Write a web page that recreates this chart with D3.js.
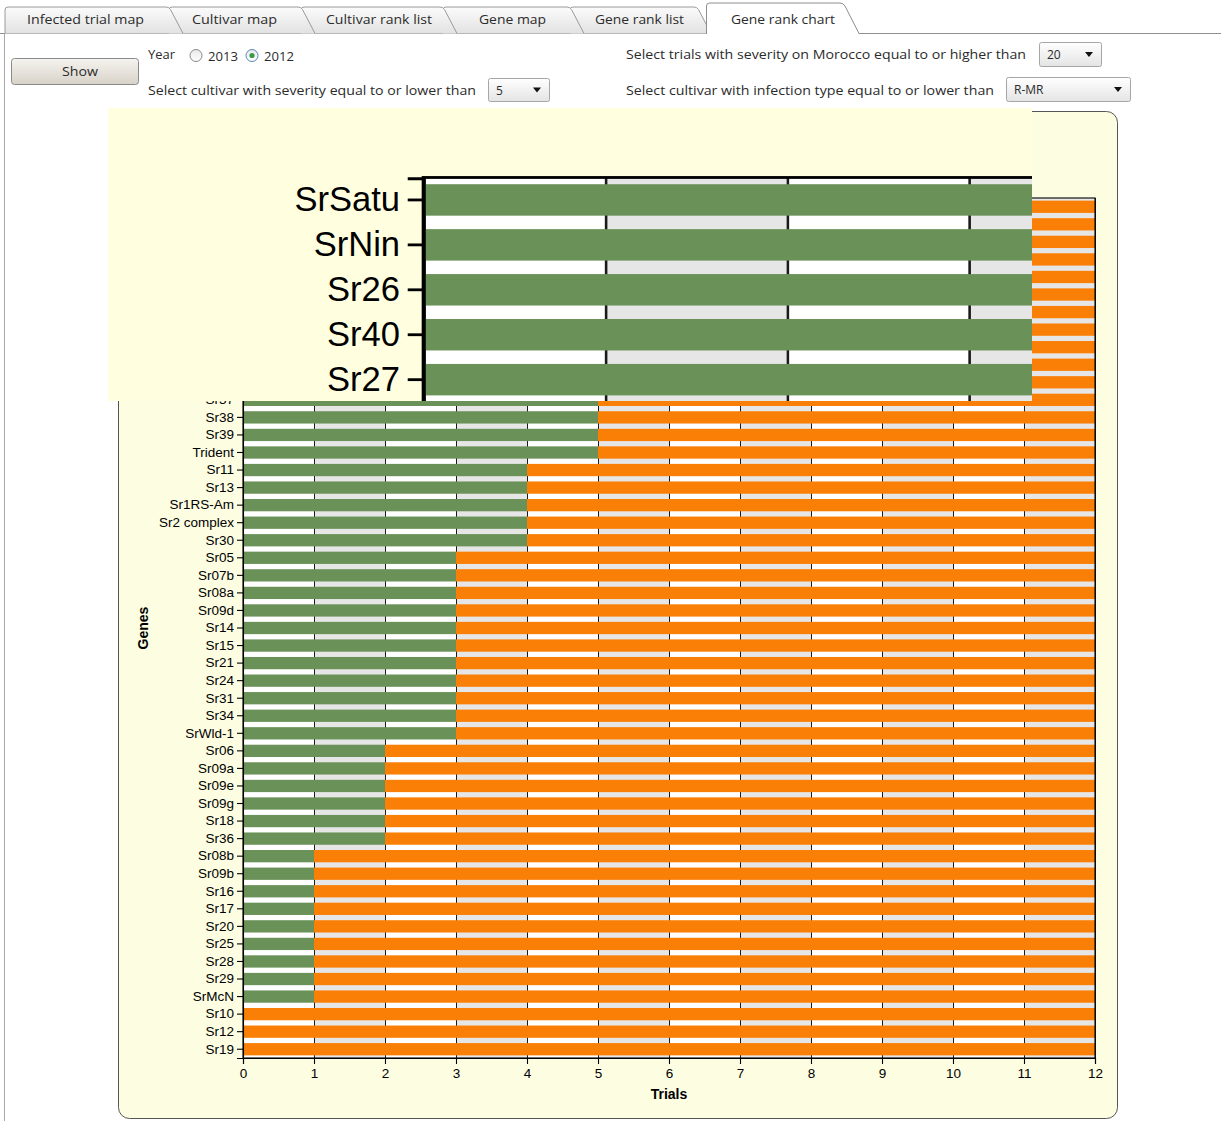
<!DOCTYPE html>
<html>
<head>
<meta charset="utf-8">
<script src="https://cdnjs.cloudflare.com/ajax/libs/d3/7.8.5/d3.min.js"></script>
<style>
  body { margin: 0; background: #fff; }
  svg { display: block; }
  .ui { font-family: "Open Sans", "Noto Sans", sans-serif; font-size: 12px; fill: #2b2b2b; }
  .chart text { font-family: "Liberation Sans", Arial, sans-serif; fill: #000; }
</style>
</head>
<body>
<svg id="page" width="1221" height="1121"></svg>
<script>
// genes ordered as in the chart (top to bottom), trials where the gene held (green) / failed (orange)
const genes = ["SrSatu", "SrNin", "Sr26", "Sr40", "Sr27", "Sr22", "Sr33", "Sr23", "Sr32", "Sr35", "SrTt3",
  "Sr37", "Sr38", "Sr39", "Trident", "Sr11", "Sr13", "Sr1RS-Am", "Sr2 complex", "Sr30",
  "Sr05", "Sr07b", "Sr08a", "Sr09d", "Sr14", "Sr15", "Sr21", "Sr24", "Sr31", "Sr34", "SrWld-1",
  "Sr06", "Sr09a", "Sr09e", "Sr09g", "Sr18", "Sr36",
  "Sr08b", "Sr09b", "Sr16", "Sr17", "Sr20", "Sr25", "Sr28", "Sr29", "SrMcN",
  "Sr10", "Sr12", "Sr19"];
const resistant = [11, 10, 9, 9, 8, 7, 7, 6, 6, 6, 6,
  5, 5, 5, 5, 4, 4, 4, 4, 4,
  3, 3, 3, 3, 3, 3, 3, 3, 3, 3, 3,
  2, 2, 2, 2, 2, 2,
  1, 1, 1, 1, 1, 1, 1, 1, 1,
  0, 0, 0];
const susceptible = [1, 2, 3, 3, 4, 5, 5, 6, 6, 6, 6,
  7, 7, 7, 7, 8, 8, 8, 8, 8,
  9, 9, 9, 9, 9, 9, 9, 9, 9, 9, 9,
  10, 10, 10, 10, 10, 10,
  11, 11, 11, 11, 11, 11, 11, 11, 11,
  12, 12, 12];
const trialTicks = [0, 1, 2, 3, 4, 5, 6, 7, 8, 9, 10, 11, 12];

// rows that show up inside the magnifier box
const zoomGenes = ["SrSatu", "SrNin", "Sr26", "Sr40", "Sr27"];

const tabNames = ["Infected trial map", "Cultivar map", "Cultivar rank list", "Gene map", "Gene rank list", "Gene rank chart"];
const yearOptions = ["2013", "2012"];

const svg = d3.select("#page");
const defs = svg.append("defs");

function vGrad(id, c0, c1) {
  let gr = defs.append("linearGradient").attr("id", id)
    .attr("x1", 0).attr("y1", 0).attr("x2", 0).attr("y2", 1);
  gr.append("stop").attr("offset", 0).attr("stop-color", c0);
  gr.append("stop").attr("offset", 1).attr("stop-color", c1);
}
vGrad("tabGrad", "#fbfbfb", "#e2e2e2");
vGrad("btnGrad", "#f6f4f0", "#d8d2c8");
vGrad("selGrad", "#ffffff", "#e4e4e4");
vGrad("radGrad", "#e8e8e8", "#ffffff");

// ---------- tab strip ----------
const tabEdges = [5, 169, 301, 443, 570, 697];
svg.append("line").attr("x1", 0).attr("x2", 1221).attr("y1", 33.5).attr("y2", 33.5)
  .attr("stroke", "#8e8e8e");
svg.append("line").attr("x1", 4.5).attr("x2", 4.5).attr("y1", 33).attr("y2", 1121)
  .attr("stroke", "#a8a8a8");

// inactive tabs, drawn right to left so each slanted edge sits on the next tab
for (let i = 4; i >= 0; i--) {
  let x0 = tabEdges[i], x1 = tabEdges[i + 1];
  svg.append("path")
    .attr("d", `M${x0},33.5 L${x0},10 Q${x0},7 ${x0 + 3},7 L${x1 - 3},7 Q${x1},7 ${x1 + 1.5},9.5 L${x1 + 14},33.5`)
    .attr("fill", "url(#tabGrad)").attr("stroke", "#9a9a9a");
}
// active tab
svg.append("path")
  .attr("d", "M706.5,34 L706.5,6 Q706.5,3 709.5,3 L840,3 Q843,3 845,6 L859,34 Z")
  .attr("fill", "#fff").attr("stroke", "none");
svg.append("path")
  .attr("d", "M706.5,34 L706.5,6 Q706.5,3 709.5,3 L840,3 Q843,3 845,6 L859,33.5")
  .attr("fill", "none").attr("stroke", "#8e8e8e");

const tabLabels = [[85.5, 117], [234.5, 85], [379, 106], [512.5, 67], [639.5, 89], [783, 104]];
tabNames.forEach((t, i) => {
  svg.append("text").attr("class", "ui")
    .attr("x", tabLabels[i][0]).attr("y", 23.5)
    .attr("text-anchor", "middle")
    .attr("textLength", tabLabels[i][1]).attr("lengthAdjust", "spacingAndGlyphs")
    .text(t);
});

// ---------- controls ----------
svg.append("rect").attr("x", 11.5).attr("y", 58.5).attr("width", 127).attr("height", 26).attr("rx", 3)
  .attr("fill", "url(#btnGrad)").attr("stroke", "#8a8a8a");
svg.append("text").attr("class", "ui").attr("x", 80).attr("y", 75.5).attr("text-anchor", "middle")
  .attr("textLength", 36).attr("lengthAdjust", "spacingAndGlyphs").text("Show");

function uiText(str, x, yb, w) {
  svg.append("text").attr("class", "ui").attr("x", x).attr("y", yb)
    .attr("textLength", w).attr("lengthAdjust", "spacingAndGlyphs").text(str);
}
uiText("Year", 148, 59, 27);
uiText("Select cultivar with severity equal to or lower than", 148, 94.5, 328);
uiText("Select trials with severity on Morocco equal to or higher than", 626, 59, 400);
uiText("Select cultivar with infection type equal to or lower than", 626, 94.5, 368);

// year radios
[[196, yearOptions[0], false], [252, yearOptions[1], true]].forEach(([cx, lab, on]) => {
  svg.append("circle").attr("cx", cx).attr("cy", 55.5).attr("r", 6)
    .attr("fill", "url(#radGrad)").attr("stroke", on ? "#5b87b8" : "#8a8a8a");
  if (on) svg.append("circle").attr("cx", cx).attr("cy", 55.5).attr("r", 2.6).attr("fill", "#3b9a48");
  uiText(lab, cx + 12, 61, 30);
});

function selectBox(x, yTop, w, h, val) {
  svg.append("rect").attr("x", x + 0.5).attr("y", yTop + 0.5).attr("width", w).attr("height", h).attr("rx", 2)
    .attr("fill", "url(#selGrad)").attr("stroke", "#a6a6a6");
  svg.append("text").attr("class", "ui").attr("x", x + 8).attr("y", yTop + h / 2 + 5).text(val);
  let ax = x + w - 12, ay = yTop + h / 2 - 2;
  svg.append("path").attr("d", `M${ax - 4},${ay} L${ax + 4},${ay} L${ax},${ay + 5} Z`).attr("fill", "#111");
}
selectBox(488, 78, 61, 23, "5");
selectBox(1039, 42, 62, 24, "20");
selectBox(1006, 77, 124, 24, "R-MR");

// ---------- chart panel ----------
svg.append("rect").attr("x", 118.5).attr("y", 111.5).attr("width", 999).attr("height", 1007).attr("rx", 11)
  .attr("fill", "#fdfde2").attr("stroke", "#555");

const x = d3.scaleLinear().domain([0, 12]).range([243, 1095]);
const y = d3.scaleBand().domain(genes).range([198, 1058]).paddingInner(0.3).paddingOuter(0.15);

function drawChart(g, rows, full) {
  let [y0, y1] = y.range();
  let plotH = y1 - y0;
  g.attr("class", "chart");

  // alternating column background
  g.append("g").selectAll("rect").data(trialTicks.slice(0, -1)).join("rect")
    .attr("x", d => x(d)).attr("y", y0)
    .attr("width", d => x(d + 1) - x(d)).attr("height", plotH)
    .attr("fill", d => d % 2 ? "#e6e6e6" : "#ffffff");

  // vertical grid
  let grid = g.append("g").attr("transform", `translate(0,${y0})`)
    .call(d3.axisBottom(x).tickValues(trialTicks).tickSize(plotH).tickFormat(""));
  grid.select(".domain").remove();
  grid.selectAll("line").attr("stroke", "#1a1a1a");

  // stacked bars
  let idx = rows.map(r => genes.indexOf(r));
  g.append("g").selectAll("rect").data(idx).join("rect")
    .attr("x", x(0)).attr("y", i => y(genes[i]))
    .attr("width", i => x(resistant[i]) - x(0)).attr("height", y.bandwidth())
    .attr("fill", "#6a9157");
  g.append("g").selectAll("rect").data(idx).join("rect")
    .attr("x", i => x(resistant[i])).attr("y", i => y(genes[i]))
    .attr("width", i => x(resistant[i] + susceptible[i]) - x(resistant[i])).attr("height", y.bandwidth())
    .attr("fill", "#fa7f06");

  // frame
  g.append("rect").attr("x", x(0)).attr("y", y0).attr("width", x(12) - x(0)).attr("height", plotH)
    .attr("fill", "none").attr("stroke", "#000").attr("stroke-width", 1.1);

  // axes
  let axes = [g.append("g").attr("transform", `translate(${x(0)},0)`)
    .call(d3.axisLeft(y).tickValues(rows).tickSize(6).tickPadding(3))];
  if (full) {
    axes.push(g.append("g").attr("transform", `translate(0,${y1})`)
      .call(d3.axisBottom(x).tickValues(trialTicks).tickSize(6).tickPadding(4)));
  }
  axes.forEach(a => {
    a.attr("font-family", null).attr("font-size", null);
    a.selectAll("text").style("font-size", "13.5px");
    a.selectAll("line, path").attr("stroke", "#000").attr("stroke-width", 1.1);
  });

  if (!full) return;
  g.append("text").attr("x", x(6)).attr("y", y1 + 41).attr("text-anchor", "middle")
    .style("font-size", "14px").style("font-weight", "bold").text("Trials");
  g.append("text").attr("transform", `translate(${148},${(y0 + y1) / 2}) rotate(-90)`)
    .attr("text-anchor", "middle")
    .style("font-size", "14px").style("font-weight", "bold").text("Genes");
}

drawChart(svg.append("g"), genes, true);

// ---------- magnifier overlay ----------
defs.append("clipPath").attr("id", "zoomClip")
  .append("rect").attr("x", 108).attr("y", 108).attr("width", 924).attr("height", 293);
const zoomG = svg.append("g").attr("clip-path", "url(#zoomClip)");
zoomG.append("rect").attr("x", 108).attr("y", 108).attr("width", 924).attr("height", 293)
  .attr("fill", "#ffffe0");
drawChart(zoomG.append("g").attr("transform", "translate(-199,-329.4) scale(2.56)"), zoomGenes, false);
</script>
</body>
</html>
